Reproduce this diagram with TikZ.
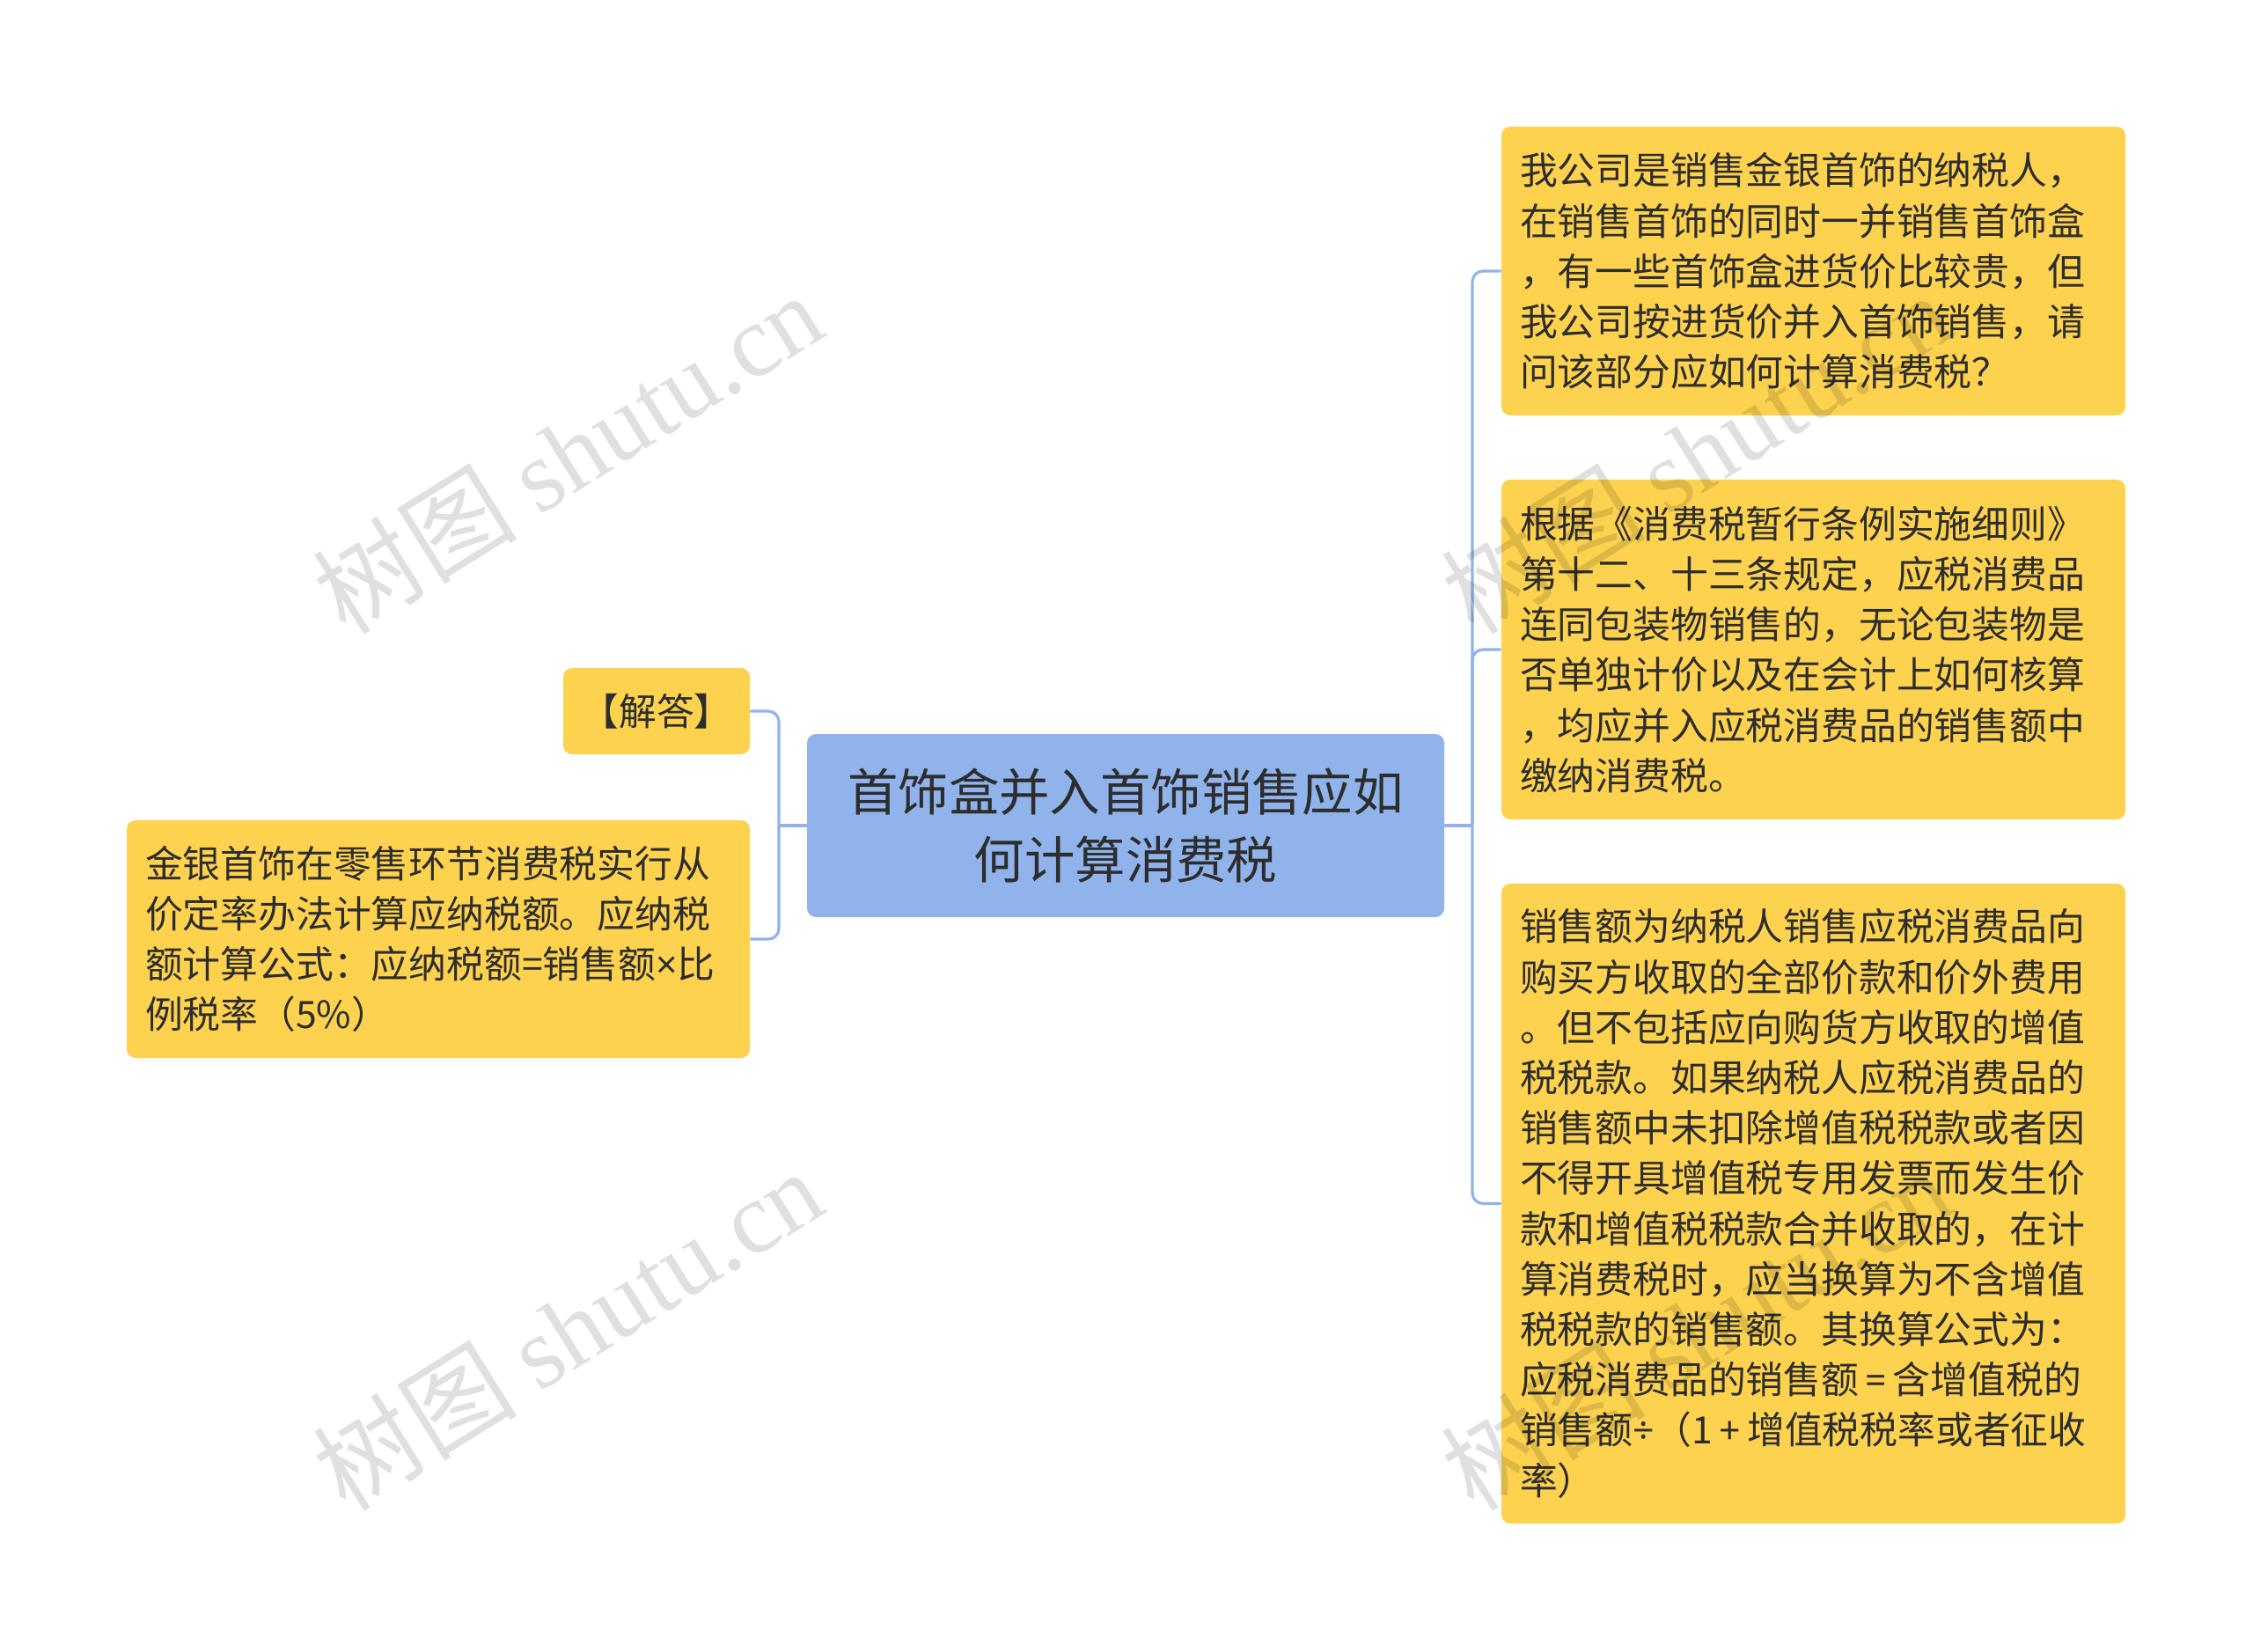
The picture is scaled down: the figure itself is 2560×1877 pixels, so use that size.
\documentclass[tikz,border=0pt]{standalone}
\usepackage{fontspec}
\setmainfont{Noto Sans CJK SC}
\newfontfamily\wmfont{Liberation Serif}
\newfontfamily\narrowfont{Noto Sans}
\usetikzlibrary{positioning}

\definecolor{boxyellow}{RGB}{253,210,79}
\definecolor{rootblue}{RGB}{143,179,234}
\definecolor{linkblue}{RGB}{143,179,234}
\definecolor{inktext}{RGB}{45,45,45}

\tikzset{
  card/.style={fill=boxyellow, rounded corners=5pt, text=inktext,
    font=\fontsize{21.4pt}{28.6pt}\selectfont},
  topic/.style={card, align=left, inner xsep=10.5pt, inner ysep=0pt, text width=333.5pt},
  tag/.style={card, align=center, inner sep=0pt, minimum width=106pt, minimum height=49pt},
  root/.style={fill=rootblue, rounded corners=5pt, text=inktext, align=center,
    minimum width=362pt, minimum height=104pt, inner sep=0pt,
    font=\fontsize{28.7pt}{38.4pt}\selectfont},
  link/.style={draw=linkblue, line width=1.6pt, rounded corners=6pt},
  wmark/.style={rotate=32, text=black, opacity=0.12, inner sep=0pt,
    font=\fontsize{58pt}{60pt}\selectfont}
}

\begin{document}
\begin{tikzpicture}[x=0.5pt,y=-0.5pt]
    \useasboundingbox (0,0) rectangle (2560,1877);
    % centre topic
    \node[root] (root) at (1279,938) {首饰盒并入首饰销售应如\\何计算消费税};
    % right side
    \node[topic, minimum height=164pt] (ask) at (2060.5,308)
      {我公司是销售金银首饰的纳税人，\\在销售首饰的同时一并销售首饰盒\\，有一些首饰盒进货价比较贵，但\\我公司按进货价并入首饰销售，请\\问该部分应如何计算消费税？};
    \node[topic, minimum height=193pt] (law) at (2060.5,738)
      {根据《消费税暂行条例实施细则》\\第十二、十三条规定，应税消费品\\连同包装物销售的，无论包装物是\\否单独计价以及在会计上如何核算\\，均应并入应税消费品的销售额中\\缴纳消费税。};
    \node[topic, minimum height=363.5pt] (sales) at (2060.5,1367.5)
      {销售额为纳税人销售应税消费品向\\购买方收取的全部价款和价外费用\\。但不包括应向购货方收取的增值\\税税款。如果纳税人应税消费品的\\销售额中未扣除增值税税款或者因\\不得开具增值税专用发票而发生价\\款和增值税税款合并收取的，在计\\算消费税时，应当换算为不含增值\\税税款的销售额。其换算公式为：\\应税消费品的销售额\,{\narrowfont=}\,含增值税的\\销售额{\narrowfont ÷}（1\,{\narrowfont +}\,增值税税率或者征收\\率）};
    % left side
    \node[tag] (ans) at (746,808) {【解答】};
    \node[topic, text width=333pt, minimum height=135pt] (rate) at (498,1067)
      {金银首饰在零售环节消费税实行从\\价定率办法计算应纳税额。应纳税\\额计算公式：应纳税额=销售额{\narrowfont ×}比\\例税率（5\%）};

    % connectors
    \coordinate (rj) at (1673,938);
    \coordinate (lj) at (885,938);
    \draw[link] (root.east) -- (rj);
    \draw[link] (rj) |- (ask.west);
    \draw[link] (rj) |- (law.west);
    \draw[link] (rj) |- (sales.west);
    \draw[link] (root.west) -- (lj);
    \draw[link] (lj) |- (ans.east);
    \draw[link] (lj) |- (rate.east);

    % watermark
    \foreach \wx/\wy [count=\i] in {645/514, 645/1510, 1927/514, 1927/1510}
      \node[wmark] (wm\i) at (\wx,\wy) {树图 {\wmfont shutu.cn}};
\end{tikzpicture}
\end{document}
